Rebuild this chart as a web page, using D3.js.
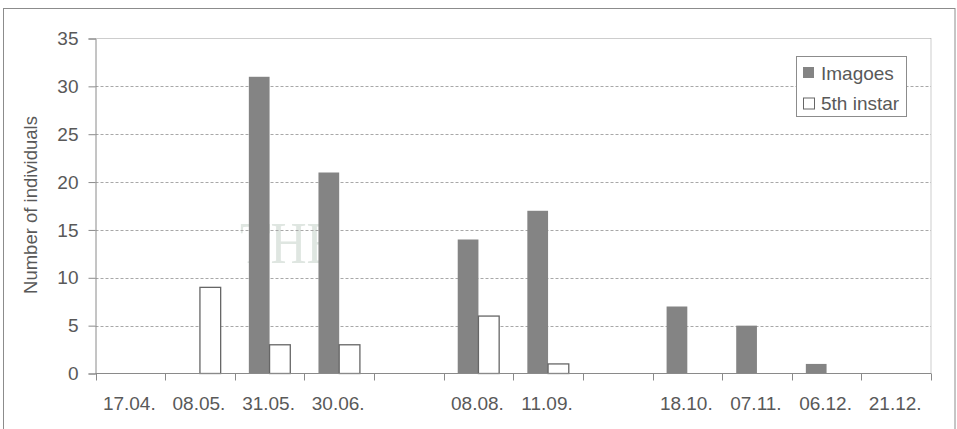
<!DOCTYPE html>
<html>
<head>
<meta charset="utf-8">
<script src="https://cdn.jsdelivr.net/npm/d3@7"></script>
<style>
  html, body { margin: 0; padding: 0; background: #fff; }
  svg { display: block; font-family: "Liberation Sans", Arial, sans-serif; }
</style>
</head>
<body>
<svg id="chart" width="957" height="429"></svg>
<script>
// Sampling dates (blank slots keep the spacing between visits)
const categories = ["17.04.", "08.05.", "31.05.", "30.06.", "", "08.08.", "11.09.", "", "18.10.", "07.11.", "06.12.", "21.12."];
// Counts per sampling date
const imagoes    = [0, 0, 31, 21, 0, 14, 17, 0, 7, 5, 1, 0];
const fifthInstar = [0, 9, 3, 3, 0, 6, 1, 0, 0, 0, 0, 0];
const seriesNames = ["Imagoes", "5th instar"];
const yTicks = [0, 5, 10, 15, 20, 25, 30, 35];

const svg = d3.select("#chart");
const W = 957, H = 429;
const plot = { left: 95.5, right: 931, top: 38.5, bottom: 373.5 };
const textColor = "#595959";
const axisColor = "#8a8a8a";

svg.append("rect").attr("width", W).attr("height", H).attr("fill", "#fff");

// Faint university watermark behind the figure
const wm = svg.append("g").attr("pointer-events", "none");
wm.append("text")
  .attr("x", 240).attr("y", 263)
  .attr("font-family", "Liberation Serif, serif").attr("font-size", 60)
  .attr("textLength", 97).attr("lengthAdjust", "spacingAndGlyphs")
  .attr("fill", "#dfe6e1")
  .text("THE");

// Chart frame
svg.append("rect")
  .attr("x", 3.5).attr("y", 8.5)
  .attr("width", 951.5).attr("height", 440)
  .attr("fill", "none").attr("stroke", "#8c8c8c").attr("stroke-width", 1);

const x = d3.scaleBand()
  .domain(d3.range(categories.length))
  .range([plot.left, plot.right])
  .paddingInner(0).paddingOuter(0);

const xSub = d3.scaleBand()
  .domain(seriesNames)
  .range([0, x.bandwidth()])
  .paddingInner(0).paddingOuter(0.68);

const y = d3.scaleLinear().domain([0, 35]).range([plot.bottom, plot.top]);

// Gridlines
const grid = svg.append("g");
grid.selectAll("line.grid")
  .data(yTicks.filter(t => t > 0 && t < 35))
  .join("line")
  .attr("x1", plot.left).attr("x2", plot.right)
  .attr("y1", d => Math.round(y(d)) + 0.5).attr("y2", d => Math.round(y(d)) + 0.5)
  .attr("stroke", "#a8a8a8").attr("stroke-width", 1)
  .attr("stroke-dasharray", "3,2");

// Dotted plot-area border (top and right)
grid.append("line")
  .attr("x1", plot.left).attr("x2", plot.right)
  .attr("y1", y(35)).attr("y2", y(35))
  .attr("stroke", "#9a9a9a").attr("stroke-width", 1).attr("stroke-dasharray", "1,1");
grid.append("line")
  .attr("x1", plot.right).attr("x2", plot.right)
  .attr("y1", y(35)).attr("y2", plot.bottom)
  .attr("stroke", "#9a9a9a").attr("stroke-width", 1).attr("stroke-dasharray", "1,1");

// Bars
const rows = categories.map((c, i) => ({ i, values: [imagoes[i], fifthInstar[i]] }));
const groups = svg.append("g").selectAll("g")
  .data(rows)
  .join("g")
  .attr("transform", d => `translate(${x(d.i)},0)`);

groups.selectAll("rect")
  .data(d => seriesNames.map((s, k) => ({ s, v: d.values[k] })).filter(e => e.v > 0))
  .join("rect")
  .attr("x", e => xSub(e.s))
  .attr("width", xSub.bandwidth())
  .attr("y", e => y(e.v))
  .attr("height", e => y(0) - y(e.v))
  .attr("fill", e => e.s === "Imagoes" ? "#848484" : "#ffffff")
  .attr("stroke", e => e.s === "Imagoes" ? "none" : "#666")
  .attr("stroke-width", 1.3);

// Y axis
const yAxis = svg.append("g")
  .attr("transform", `translate(${plot.left},0)`)
  .call(d3.axisLeft(y).tickValues(yTicks).tickSize(7).tickPadding(10).tickFormat(d3.format("d")));
yAxis.select(".domain").attr("stroke", axisColor);
yAxis.selectAll(".tick line").attr("stroke", axisColor);
yAxis.selectAll(".tick text")
  .attr("fill", textColor).attr("font-size", 19)
  .attr("font-family", "Liberation Sans, Arial, sans-serif");

// X axis: labels centred in slots, ticks on slot boundaries
const xAxisG = svg.append("g").attr("transform", `translate(0,${plot.bottom})`);
xAxisG.append("line")
  .attr("x1", plot.left).attr("x2", plot.right)
  .attr("stroke", axisColor);
xAxisG.selectAll("line.tick")
  .data(d3.range(categories.length + 1))
  .join("line")
  .attr("class", "tick")
  .attr("x1", i => Math.round(plot.left + i * x.step()) + 0.5)
  .attr("x2", i => Math.round(plot.left + i * x.step()) + 0.5)
  .attr("y1", 0).attr("y2", 7)
  .attr("stroke", axisColor);
xAxisG.selectAll("text")
  .data(categories.map((c, i) => ({ c, i })).filter(d => d.c !== ""))
  .join("text")
  .attr("x", d => x(d.i) + x.bandwidth() / 2 - 1)
  .attr("y", 36.5)
  .attr("text-anchor", "middle")
  .attr("fill", textColor).attr("font-size", 19)
  .text(d => d.c);

// Y axis title
svg.append("text")
  .attr("transform", `translate(37,${(plot.top + plot.bottom) / 2 - 1}) rotate(-90)`)
  .attr("text-anchor", "middle")
  .attr("fill", textColor).attr("font-size", 18.5)
  .text("Number of individuals");

// Legend
const legend = svg.append("g");
legend.append("rect")
  .attr("x", 796.5).attr("y", 56.5).attr("width", 110).attr("height", 60)
  .attr("fill", "#fff").attr("stroke", "#8c8c8c").attr("stroke-width", 1);
seriesNames.forEach((s, k) => {
  const cy = 73 + k * 30.5;
  legend.append("rect")
    .attr("x", k === 0 ? 803 : 803.5).attr("y", k === 0 ? cy - 6 : cy - 5.5)
    .attr("width", 11).attr("height", 11)
    .attr("fill", k === 0 ? "#848484" : "#fff")
    .attr("stroke", k === 0 ? "none" : "#666").attr("stroke-width", 1);
  legend.append("text")
    .attr("x", 821).attr("y", cy + 6.5)
    .attr("fill", textColor).attr("font-size", 19)
    .text(s);
});
</script>
</body>
</html>
